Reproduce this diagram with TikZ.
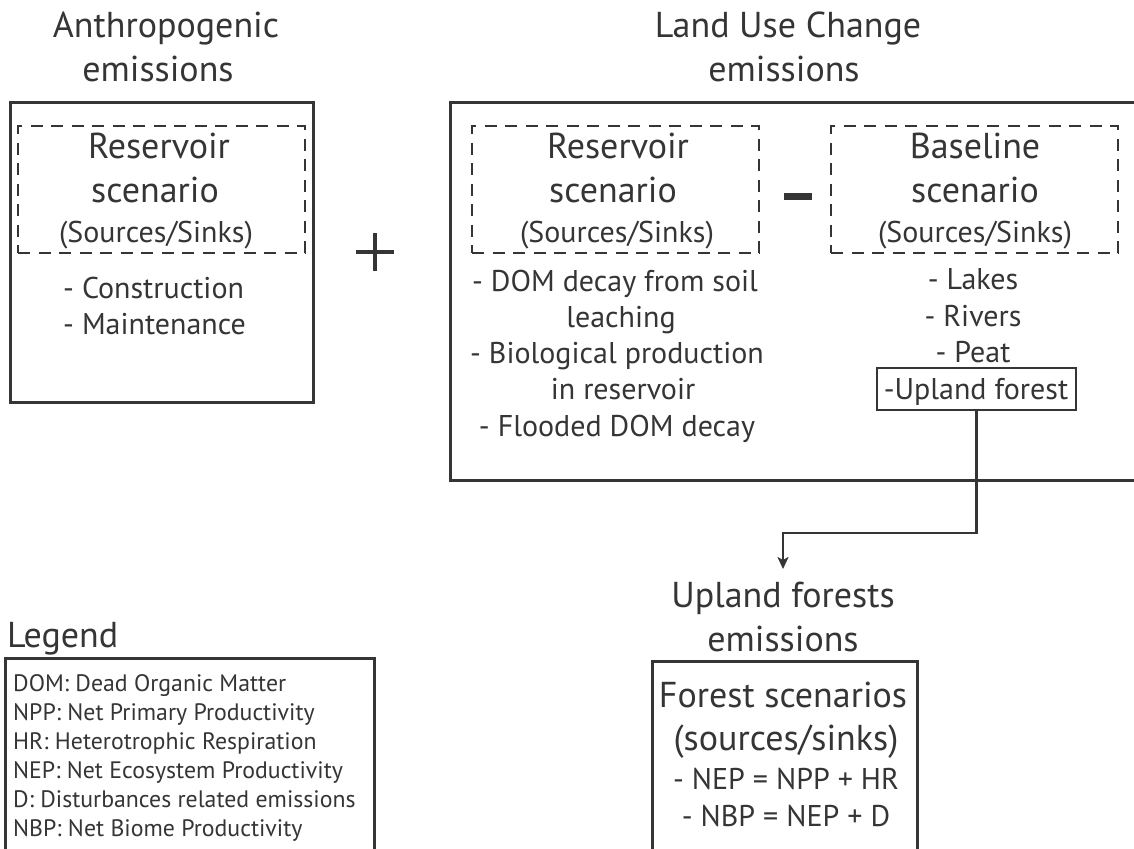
\documentclass[tikz,border=0pt]{standalone}
\usepackage{fontspec}
\setmainfont{PT Sans}
\usetikzlibrary{arrows.meta}
\definecolor{ink}{HTML}{353535}
\begin{document}
\begin{tikzpicture}[x=1pt,y=-1pt,
  outerbox/.style={draw=ink,line width=3pt,minimum width=#1,inner sep=0pt},
  dashbox/.style={draw=ink,line width=2.8pt,dash pattern=on 12pt off 8.5pt,inner sep=0pt},
  hd/.style={text=ink,anchor=base,inner sep=0pt,font=\fontsize{36}{40}\selectfont},
  md/.style={text=ink,anchor=base,inner sep=0pt,font=\fontsize{30}{34}\selectfont},
  lg/.style={text=ink,anchor=base west,inner sep=0pt,font=\fontsize{23.8}{28}\selectfont},
  conn/.style={draw=ink,line width=2.6pt},
]
\useasboundingbox (0,0) rectangle (1134,848);
\clip (0,0) rectangle (1134,848);
\fill[white] (0,0) rectangle (1134,848);

% ---- left: anthropogenic
\node[hd] (tA1) at (166,38) {Anthropogenic};
\node[hd] (tA2) at (158,82) {emissions};
\node[outerbox=303pt,minimum height=299pt] (boxL) at (161.5,252.5) {};
\node[dashbox,minimum width=287pt,minimum height=127pt] (dL) at (161.5,189.5) {};
\node[hd] (dL1) at (159,158) {Reservoir};
\node[hd] (dL2) at (155,202) {scenario};
\node[md] (dL3) at (156,242) {(Sources/Sinks)};
\node[md,anchor=base west] (iL1) at (63,298) {- Construction};
\node[md,anchor=base west] (iL2) at (63,334) {- Maintenance};

% plus
\draw[ink,line width=3.6pt] (356,252) -- (394,252) (375,233) -- (375,271);

% ---- right: land use change
\node[hd] (tB1) at (788,38) {Land Use Change};
\node[hd] (tB2) at (784,82) {emissions};
\node[outerbox=720pt,minimum height=377pt] (boxR) at (810,291.5) {};
\node[dashbox,minimum width=287pt,minimum height=127pt] (dR) at (615.5,189.5) {};
\node[dashbox,minimum width=287pt,minimum height=127pt] (dB) at (974.5,189.5) {};
\fill[ink] (784,193) rectangle (812,200);

\node[hd] (dR1) at (618,158) {Reservoir};
\node[hd] (dR2) at (613,202) {scenario};
\node[md] (dR3) at (617,242) {(Sources/Sinks)};
\node[md] (iR1) at (615,291) {- DOM decay from soil};
\node[md] (iR2) at (621,327) {leaching};
\node[md] (iR3) at (617,363) {- Biological production};
\node[md] (iR4) at (623,399) {in reservoir};
\node[md] (iR5) at (617,436) {- Flooded DOM decay};

\node[hd] (dB1) at (975,158) {Baseline};
\node[hd] (dB2) at (975,202) {scenario};
\node[md] (dB3) at (975,242) {(Sources/Sinks)};
\node[md] (iB1) at (973,289) {- Lakes};
\node[md] (iB2) at (973,326) {- Rivers};
\node[md] (iB3) at (973,362) {- Peat};
\node[draw=ink,line width=2.2pt,minimum width=199pt,minimum height=42pt,inner sep=0pt] (upl) at (976.5,389) {};
\node[md] (iB4) at (976,399) {-Upland forest};

% connector
\coordinate (elbow) at (783,533);
\coordinate (arrowend) at (783,569);
\draw[conn,-{Stealth[length=12pt,width=11pt,inset=3pt]}] (upl.south) |- (elbow) -- (arrowend);

% ---- upland forests
\node[hd] (tC1) at (783,607) {Upland forests};
\node[hd] (tC2) at (783,651) {emissions};
\node[outerbox=265pt,minimum height=240pt] (boxF) at (784.5,781) {};
\node[hd] (f1) at (783,707) {Forest scenarios};
\node[hd] (f2) at (786,750) {(sources/sinks)};
\node[md] (f3) at (786,789) {- NEP = NPP + HR};
\node[md] (f4) at (786,826) {- NBP = NEP + D};

% ---- legend
\node[hd,anchor=base west] (lgt) at (7,647) {Legend};
\node[outerbox=369pt,minimum height=240pt] (boxG) at (189.5,778) {};
\node[lg] (g1) at (13,691) {DOM: Dead Organic Matter};
\node[lg] (g2) at (13,720) {NPP: Net Primary Productivity};
\node[lg] (g3) at (13,749) {HR: Heterotrophic Respiration};
\node[lg] (g4) at (13,778) {NEP: Net Ecosystem Productivity};
\node[lg] (g5) at (13,807) {D: Disturbances related emissions};
\node[lg] (g6) at (13,836) {NBP: Net Biome Productivity};
\end{tikzpicture}
\end{document}
